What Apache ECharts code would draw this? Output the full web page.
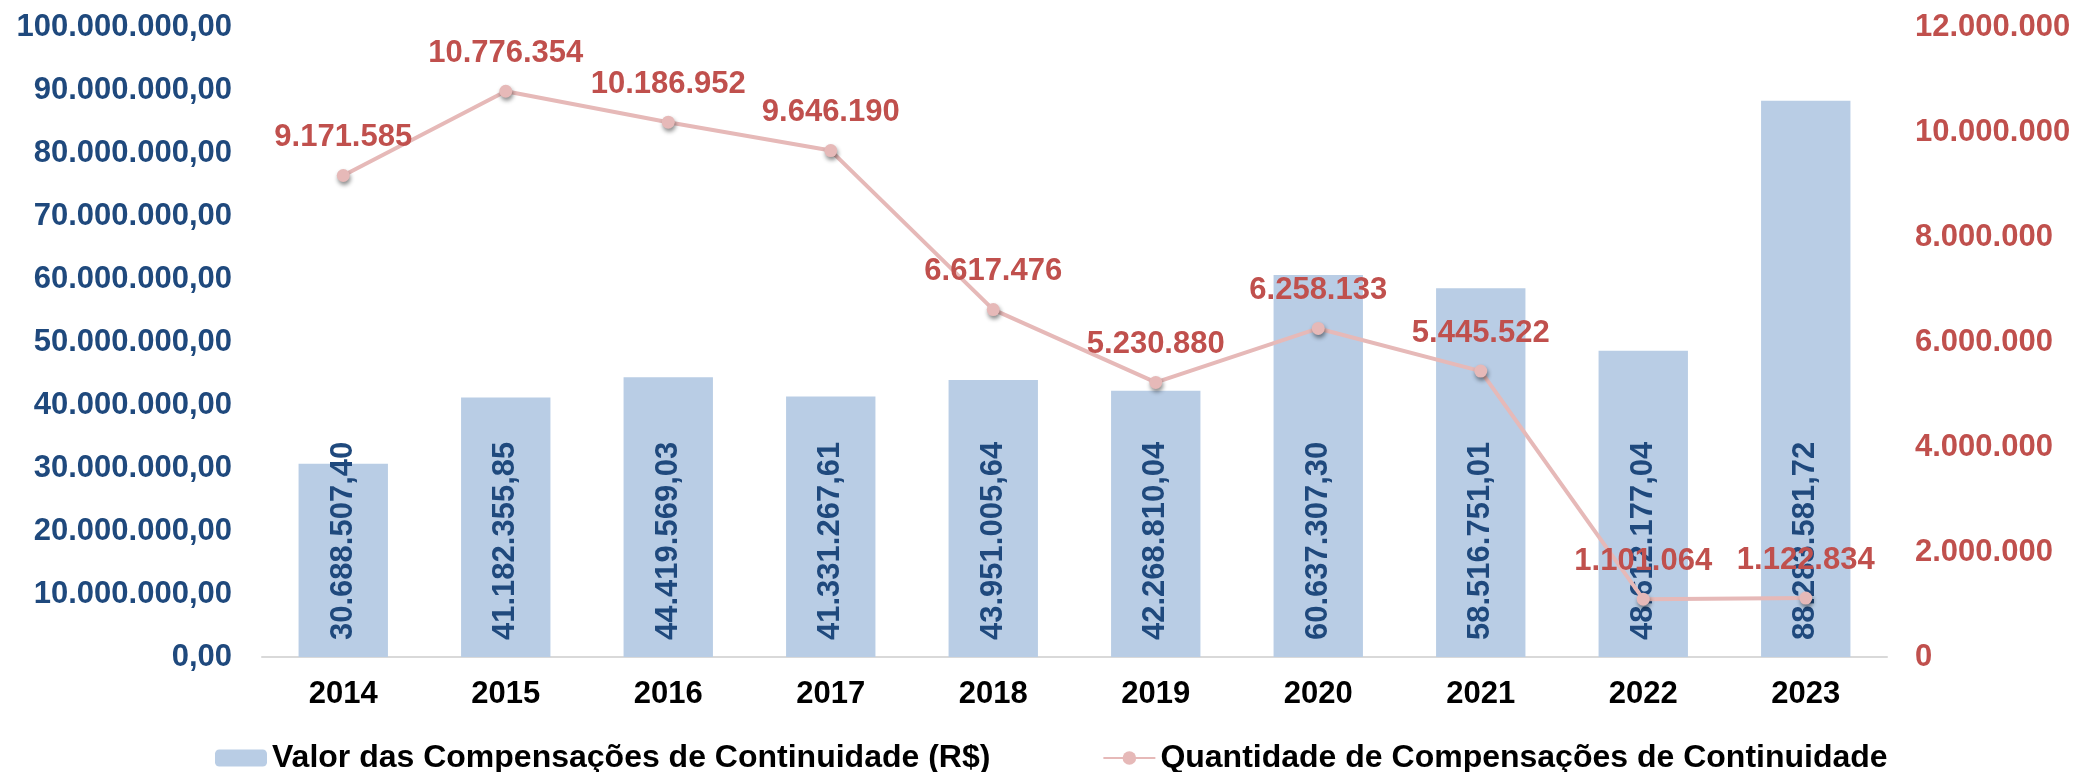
<!DOCTYPE html>
<html>
<head>
<meta charset="utf-8">
<script src="https://cdn.jsdelivr.net/npm/echarts@6/dist/echarts.min.js"></script>
<style>
html,body{margin:0;padding:0;background:#fff;}
#chart{width:2077px;height:772px;}
</style>
</head>
<body>
<div id="chart"></div>
<script>
const categories = ['2014','2015','2016','2017','2018','2019','2020','2021','2022','2023'];
const valorCompensacoes = [30688507.40, 41182355.85, 44419569.03, 41331267.61, 43951005.64, 42268810.04, 60637307.30, 58516751.01, 48612177.04, 88283581.72];
const quantidadeCompensacoes = [9171585, 10776354, 10186952, 9646190, 6617476, 5230880, 6258133, 5445522, 1101064, 1122834];
const seriesNames = ['Valor das Compensações de Continuidade (R$)', 'Quantidade de Compensações de Continuidade'];

function fmtBR(v, dec) {
  const s = Number(v).toFixed(dec);
  const parts = s.split('.');
  const intPart = parts[0].replace(/\B(?=(\d{3})+(?!\d))/g, '.');
  return dec > 0 ? intPart + ',' + parts[1] : intPart;
}

const FONT = 'Liberation Sans, Arial, sans-serif';
const chart = echarts.init(document.getElementById('chart'), null, {renderer: 'canvas'});
chart.setOption({
  animation: false,
  backgroundColor: '#ffffff',
  grid: {left: 262, right: 190, top: 27, bottom: 115, containLabel: false},
  legend: {
    left: 210,
    top: 737,
    itemWidth: 52,
    itemHeight: 17,
    itemGap: 112,
    textStyle: {fontFamily: FONT, fontSize: 32, fontWeight: 'bold', color: '#000000'},
    data: seriesNames
  },
  xAxis: {
    type: 'category',
    data: categories,
    axisLine: {show: true, lineStyle: {color: '#D9D9D9', width: 2}},
    axisTick: {show: false},
    axisLabel: {margin: 22, fontFamily: FONT, fontSize: 31, fontWeight: 'bold', color: '#000000'}
  },
  yAxis: [
    {
      type: 'value', min: 0, max: 100000000, interval: 10000000,
      splitLine: {show: false},
      axisLine: {show: false}, axisTick: {show: false},
      axisLabel: {margin: 30, fontFamily: FONT, fontSize: 31, fontWeight: 'bold', color: '#1F497D',
        formatter: v => fmtBR(v, 2)}
    },
    {
      type: 'value', min: 0, max: 12000000, interval: 2000000,
      splitLine: {show: false},
      axisLine: {show: false}, axisTick: {show: false},
      axisLabel: {margin: 28, fontFamily: FONT, fontSize: 31, fontWeight: 'bold', color: '#C0504D',
        formatter: v => fmtBR(v, 0)}
    }
  ],
  series: [
    {
      name: seriesNames[0],
      type: 'bar',
      yAxisIndex: 0,
      data: valorCompensacoes,
      barWidth: '55%',
      itemStyle: {color: '#B9CDE5'},
      label: {
        show: true, position: 'insideBottom', distance: 17, rotate: 90,
        align: 'left', verticalAlign: 'middle',
        fontFamily: FONT, fontSize: 31, fontWeight: 'bold', color: '#1F497D',
        formatter: p => fmtBR(p.value, 2)
      },
      z: 2
    },
    {
      name: seriesNames[1],
      type: 'line',
      yAxisIndex: 1,
      data: quantidadeCompensacoes,
      symbol: 'circle',
      symbolSize: 13,
      lineStyle: {color: '#E6B9B8', width: 4},
      itemStyle: {color: '#E6B9B8', shadowColor: 'rgba(0,0,0,0.45)', shadowBlur: 4, shadowOffsetX: 1, shadowOffsetY: 3},
      label: {
        show: true, position: 'top', distance: 16,
        fontFamily: FONT, fontSize: 31, fontWeight: 'bold', color: '#C0504D',
        formatter: p => fmtBR(p.value, 0)
      },
      z: 5
    }
  ]
});
</script>
</body>
</html>
